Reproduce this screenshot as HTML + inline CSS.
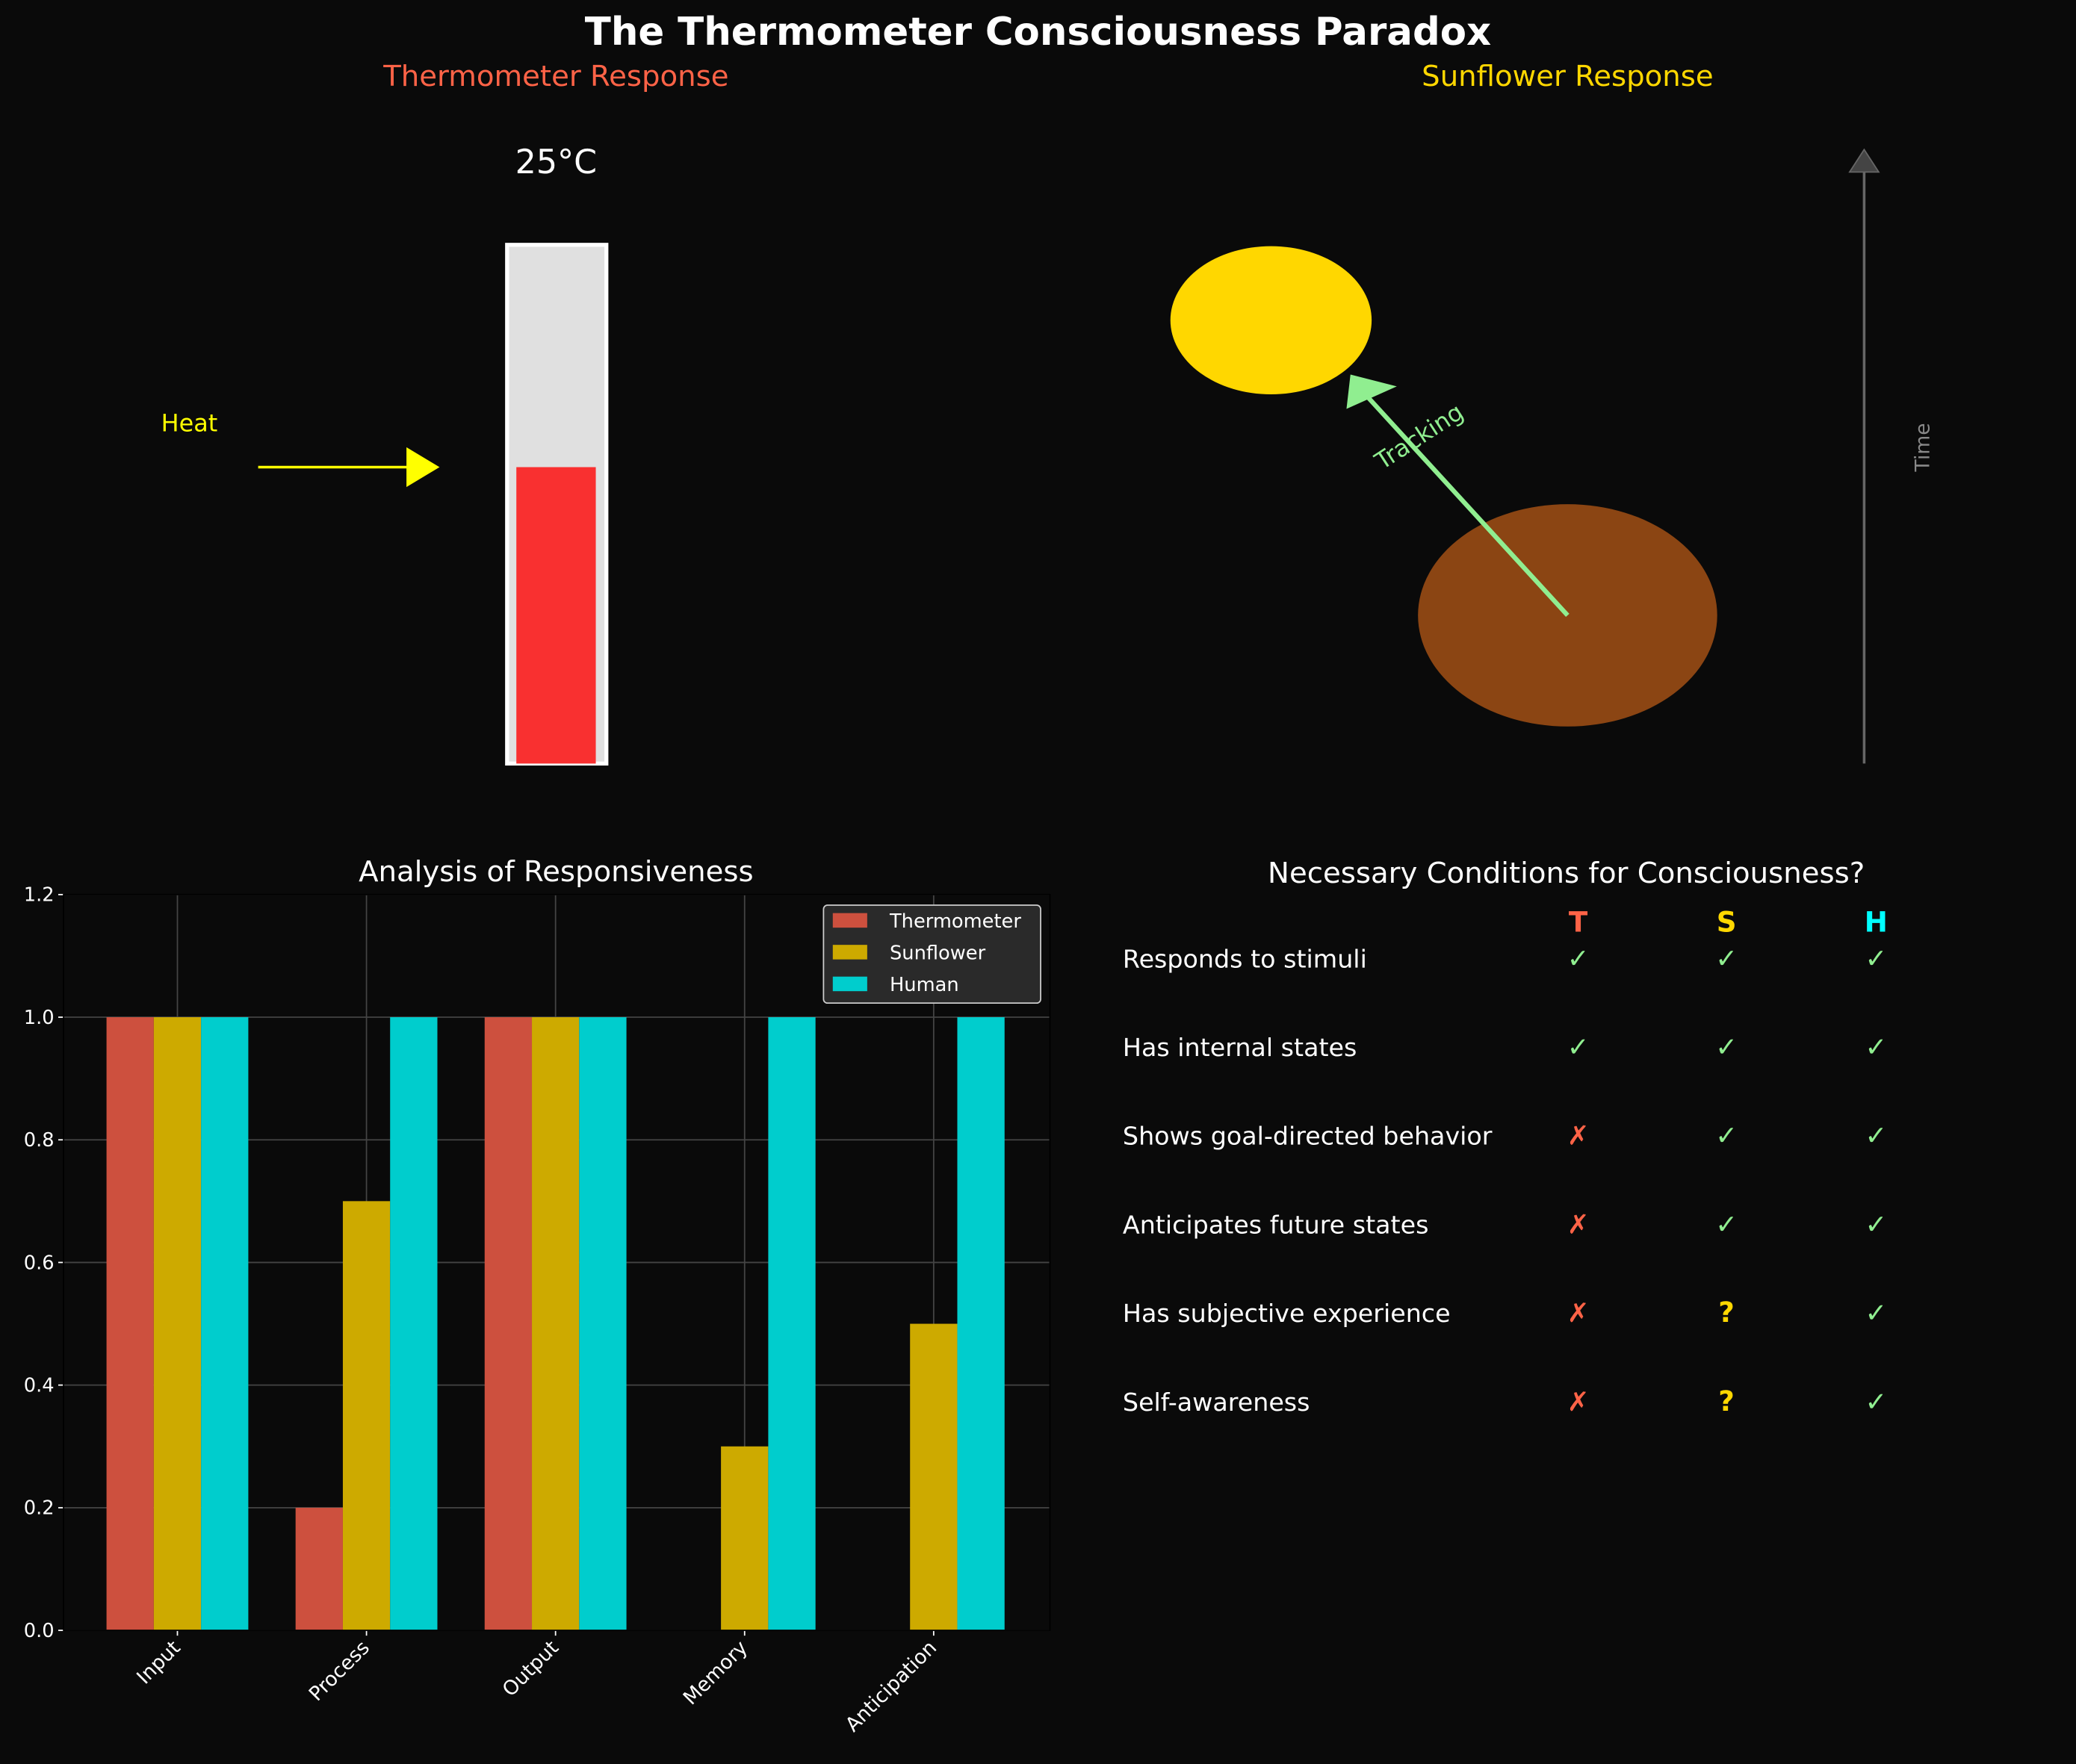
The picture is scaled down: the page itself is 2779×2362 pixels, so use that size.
<!DOCTYPE html>
<html><head><meta charset="utf-8"><style>
html,body{margin:0;padding:0;background:#0a0a0a;}
svg{display:block;font-family:"DejaVu Sans","Liberation Sans",sans-serif;}
</style></head><body>
<svg id="fig" width="2779" height="2362" viewBox="0 0 1568 1333" preserveAspectRatio="none">
<rect x="0" y="0" width="1568" height="1333" fill="#0a0a0a"/>
<text x="784" y="34" text-anchor="middle" font-size="29" font-weight="bold" fill="#fff">The Thermometer Consciousness Paradox</text>

<g>
<text x="420" y="65" text-anchor="middle" font-size="21.8" fill="#ff6347">Thermometer Response</text>
<text x="420" y="131" text-anchor="middle" font-size="25" fill="#fff">25°C</text>
<rect x="383" y="185" width="75" height="392" fill="#e0e0e0" stroke="#fff" stroke-width="3"/>
<rect x="390" y="353" width="60" height="224" fill="#f93030"/>
<text x="143" y="326" text-anchor="middle" font-size="18" fill="#ffff00">Heat</text>
<line x1="195" y1="353" x2="308" y2="353" stroke="#ffff00" stroke-width="2"/>
<polygon points="307,338 332,353 307,368" fill="#ffff00"/>
</g>

<g>
<text x="1184" y="65" text-anchor="middle" font-size="21.8" fill="#ffd700">Sunflower Response</text>
<ellipse cx="960" cy="242" rx="76" ry="56" fill="#ffd700"/>
<ellipse cx="1184" cy="465" rx="113" ry="84" fill="#8b4513"/>
<line x1="1184" y1="465" x2="1033" y2="300" stroke="#90ee90" stroke-width="3.5"/>
<polygon points="1020,283 1055,292 1017,309" fill="#90ee90"/>
<text x="1072" y="336" text-anchor="middle" font-size="18" fill="#90ee90" transform="rotate(-33 1072 330)">Tracking</text>
<line x1="1408" y1="577" x2="1408" y2="128" stroke="#666" stroke-width="2"/>
<polygon points="1408,113 1397,130 1419,130" fill="#444" stroke="#666" stroke-width="1"/>
<text x="1457" y="338" text-anchor="middle" font-size="15" fill="#888" transform="rotate(-90 1457 338)">Time</text>
</g>

<g id="bar-chart">
<text x="420" y="666" text-anchor="middle" font-size="21.8" fill="#fff">Analysis of Responsiveness</text>
<g id="grid"></g>
<g id="bars"></g>
<g id="axes"></g>
<g>
<rect x="622" y="684" width="164" height="74" rx="3" fill="#2a2a2a" stroke="#ccc" stroke-width="1"/>
<rect x="629" y="690" width="26" height="11" fill="#cd503e"/>
<text x="672" y="701" font-size="14.5" fill="#fff">Thermometer</text>
<rect x="629" y="714" width="26" height="11" fill="#cdaa00"/>
<text x="672" y="725" font-size="14.5" fill="#fff">Sunflower</text>
<rect x="629" y="738" width="26" height="11" fill="#00cdcd"/>
<text x="672" y="749" font-size="14.5" fill="#fff">Human</text>
</g>
</g>

<g>
<text x="1183" y="667" text-anchor="middle" font-size="21.8" fill="#fff">Necessary Conditions for Consciousness?</text>
<text x="1192" y="704" text-anchor="middle" font-size="21" font-weight="bold" fill="#ff6347">T</text>
<text x="1304" y="704" text-anchor="middle" font-size="21" font-weight="bold" fill="#ffd700">S</text>
<text x="1417" y="704" text-anchor="middle" font-size="21" font-weight="bold" fill="#00ffff">H</text>
<g id="rows"></g>
</g>
</svg>
<script>
const categories = ["Input","Process","Output","Memory","Anticipation"];
const thermometerVals = [1.0,0.2,1.0,0.0,0.0];
const sunflowerVals = [1.0,0.7,1.0,0.3,0.5];
const humanVals = [1.0,1.0,1.0,1.0,1.0];
const yTicks = [0.0,0.2,0.4,0.6,0.8,1.0,1.2];
const conditions = ["Responds to stimuli","Has internal states","Shows goal-directed behavior","Anticipates future states","Has subjective experience","Self-awareness"];
const tMarks = ["✓","✓","✗","✗","✗","✗"];
const sMarks = ["✓","✓","✓","✓","?","?"];
const hMarks = ["✓","✓","✓","✓","✓","✓"];

const NS="http://www.w3.org/2000/svg";
function mk(tag,attrs,parent,txt){const e=document.createElementNS(NS,tag);for(const k in attrs)e.setAttribute(k,attrs[k]);if(txt!==undefined)e.textContent=txt;parent.appendChild(e);return e;}
const L=48,R=793,T=676,B=1232,yMax=1.2;
const y=v=>B-(v/yMax)*(B-T);
const x=i=>134+i*142.8;
const bw=35.7;
const grid=document.getElementById('grid'),bars=document.getElementById('bars'),axes=document.getElementById('axes');
mk('rect',{x:L,y:T,width:R-L,height:B-T,fill:'#0a0a0a'},grid);
yTicks.forEach(v=>{
  const g=mk('line',{x1:L,x2:R,y1:y(v),y2:y(v),stroke:'#444','stroke-width':1},grid);
  
  
  const tk=mk('line',{x1:L-4,x2:L,y1:y(v),y2:y(v),stroke:'#fff','stroke-width':1},axes);
  
  
  const t=mk('text',{x:L-7,y:y(v)+5,'text-anchor':'end','font-size':14.5,fill:'#fff'},axes,v.toFixed(1));
  
  
});
categories.forEach((c,i)=>{
  const g=mk('line',{x1:x(i),x2:x(i),y1:T,y2:B,stroke:'#444','stroke-width':1},grid);
  
  
  const tk=mk('line',{x1:x(i),x2:x(i),y1:B,y2:B+4,stroke:'#fff','stroke-width':1},axes);
  
  
  const lx=x(i)+3,ly=B+14;
  const t=mk('text',{x:lx,y:ly,'text-anchor':'end','font-size':15,fill:'#fff',transform:`rotate(-45 ${lx} ${ly})`},axes,c);
  
  
});
const series=[[thermometerVals,'#cd503e','thermometer'],[sunflowerVals,'#cdaa00','sunflower'],[humanVals,'#00cdcd','human']];
series.forEach(([vals,col,nm],s)=>{
  vals.forEach((v,i)=>{
    if(v<=0)return;
    const r=mk('rect',{x:x(i)+(s-1)*bw-bw/2,y:y(v),width:bw,height:B-y(v),fill:col},bars);
    
    
  });
});
mk('rect',{x:L,y:T,width:R-L,height:B-T,fill:'none',stroke:'#000','stroke-width':1},axes);

const rows=document.getElementById('rows');
const mc=m=>m==='✓'?'#90ee90':(m==='✗'?'#ff6347':'#ffd700');
conditions.forEach((c,i)=>{
  const yy=731+i*67;
  const t=mk('text',{x:848,y:yy,'font-size':18.8,fill:'#fff'},rows,c);
  
  
  [[tMarks,1192],[sMarks,1304],[hMarks,1417]].forEach(([arr,cx])=>{
    const m=arr[i];
    const e=mk('text',{x:cx,y:yy,'text-anchor':'middle','font-size':m==='?'?21:20,'font-weight':m==='?'?'bold':'normal',fill:mc(m)},rows,m);
    
    
  });
});
</script>
</body></html>
